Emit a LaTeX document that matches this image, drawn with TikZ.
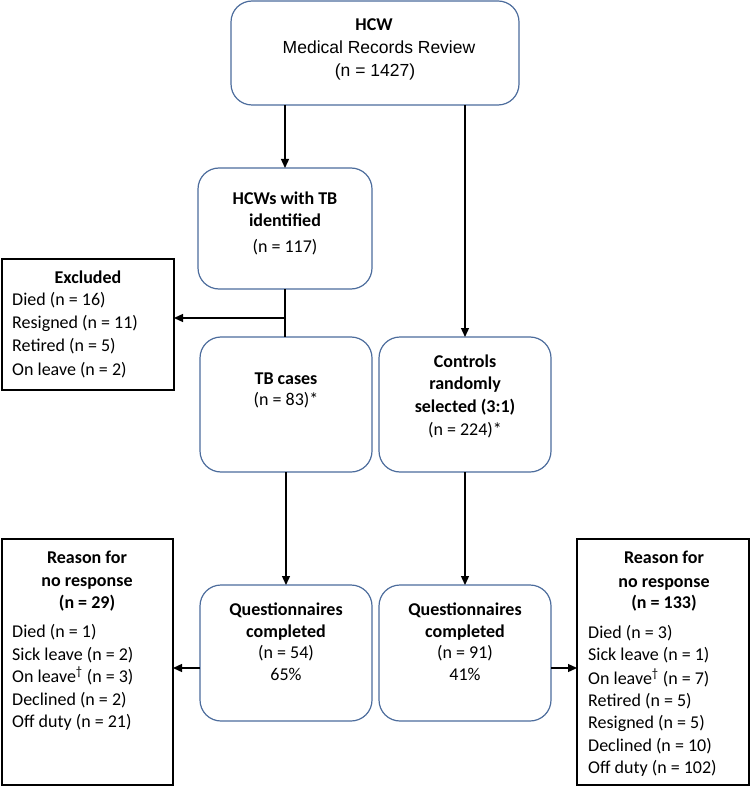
\documentclass[tikz,border=0pt]{standalone}
\usepackage{fontspec}
\setmainfont{Carlito}
\newfontfamily\arialf{Liberation Sans}
\usetikzlibrary{arrows.meta}
\definecolor{boxblue}{RGB}{76,108,156}
\begin{document}
\begin{tikzpicture}[x=1pt,y=-1pt,
  rbox/.style={draw=boxblue,line width=1.2pt,rounded corners=21pt,inner sep=0pt,outer sep=0pt},
  sbox/.style={draw=black,line width=1.5pt,inner sep=0pt,outer sep=0pt},
  txt/.style={font=\fontsize{18}{22.7}\selectfont,inner sep=0pt,anchor=base},
  btxt/.style={font=\fontsize{18}{22.7}\selectfont\bfseries,inner sep=0pt,anchor=base},
  ltxt/.style={font=\fontsize{18}{22.7}\selectfont,inner sep=0pt,anchor=base west},
  atxt/.style={font=\fontsize{17.5}{22.7}\selectfont\arialf,inner sep=0pt,anchor=base},
  arr/.style={draw=black,line width=1.3pt,-{Triangle[length=9pt,width=8pt]}},
  ln/.style={draw=black,line width=1.3pt}]
\useasboundingbox (0,0) rectangle (750,786);

% boxes
\node[rbox,minimum width=288pt,minimum height=104pt] (top) at (375,53) {};
\node[rbox,minimum width=174pt,minimum height=121pt] (hcw) at (285,228.5) {};
\node[sbox,minimum width=172pt,minimum height=131pt] (excl) at (88,324.5) {};
\node[rbox,minimum width=172pt,minimum height=135pt] (tb) at (286,404.5) {};
\node[rbox,minimum width=172pt,minimum height=135pt] (ctrl) at (465,404.5) {};
\node[rbox,minimum width=172pt,minimum height=136pt] (ql) at (286,653) {};
\node[rbox,minimum width=172pt,minimum height=136pt] (qr) at (465,653) {};
\node[sbox,minimum width=171pt,minimum height=246pt] (rl) at (87.5,662) {};
\node[sbox,minimum width=172pt,minimum height=246pt] (rr) at (663,662) {};

% top box text
\node[btxt] (t1) at (374,31) {HCW};
\node[atxt] (t2) at (379,54) {Medical Records Review};
\node[atxt] (t3) at (375,77) {(n = 1427)};

% HCWs text
\node[btxt] (h1) at (285,205) {HCWs with TB};
\node[btxt] (h2) at (285,226) {identified};
\node[txt] (h3) at (285,252) {(n = 117)};

% Excluded
\node[btxt] (e0) at (88,283) {Excluded};
\foreach \yy/\lbl [count=\i] in {305/Died (n = 16),328/Resigned (n = 11),351.5/Retired (n = 5),375/On leave (n = 2)}
  \node[ltxt] (e\i) at (12,\yy) {\lbl};

% TB cases / controls
\node[btxt] (tb1) at (286,384) {TB cases};
\node[txt] (tb2) at (286,405) {(n = 83)*};
\node[btxt] (c1) at (465,367) {Controls};
\node[btxt] (c2) at (465,389) {randomly};
\node[btxt] (c3) at (465,412) {selected (3:1)};
\node[txt] (c4) at (465,435) {(n = 224)*};

% questionnaires
\node[btxt] (ql1) at (286,615) {Questionnaires};
\node[btxt] (ql2) at (286,637) {completed};
\node[txt] (ql3) at (286,658) {(n = 54)};
\node[txt] (ql4) at (286,680) {65\%};
\node[btxt] (qr1) at (465,615) {Questionnaires};
\node[btxt] (qr2) at (465,637) {completed};
\node[txt] (qr3) at (465,658) {(n = 91)};
\node[txt] (qr4) at (465,680) {41\%};

% reasons left
\node[btxt] (rl1) at (87,563) {Reason for};
\node[btxt] (rl2) at (87,586) {no response};
\node[btxt] (rl3) at (87,608) {(n = 29)};
\foreach \yy/\lbl [count=\i] in {637/Died (n = 1),660/Sick leave (n = 2),682/On leave\textsuperscript{†} (n = 3),705/Declined (n = 2),727/Off duty (n = 21)}
  \node[ltxt] (rla\i) at (12,\yy) {\lbl};

% reasons right
\node[btxt] (rr1) at (664,563) {Reason for};
\node[btxt] (rr2) at (664,587) {no response};
\node[btxt] (rr3) at (664,608) {(n = 133)};
\foreach \yy/\lbl [count=\i] in {638/Died (n = 3),660/Sick leave (n = 1),684/On leave\textsuperscript{†} (n = 7),706/Retired (n = 5),728/Resigned (n = 5),751/Declined (n = 10),773/Off duty (n = 102)}
  \node[ltxt] (rra\i) at (588,\yy) {\lbl};

% connectors
\draw[arr] (hcw.north |- top.south) -- (hcw.north);
\draw[arr] (ctrl.north |- top.south) -- (ctrl.north);
\draw[ln] (hcw.south) -- (hcw.south |- tb.north);
\coordinate (br) at (286,318);
\draw[arr] (br) -- (br -| excl.east);
\draw[arr] (tb.south) -- (ql.north);
\draw[arr] (ctrl.south) -- (qr.north);
\coordinate (la) at (200,668);
\draw[arr] (la) -- (la -| rl.east);
\coordinate (ra) at (551,668);
\draw[arr] (ra) -- (ra -| rr.west);
\end{tikzpicture}
\end{document}
